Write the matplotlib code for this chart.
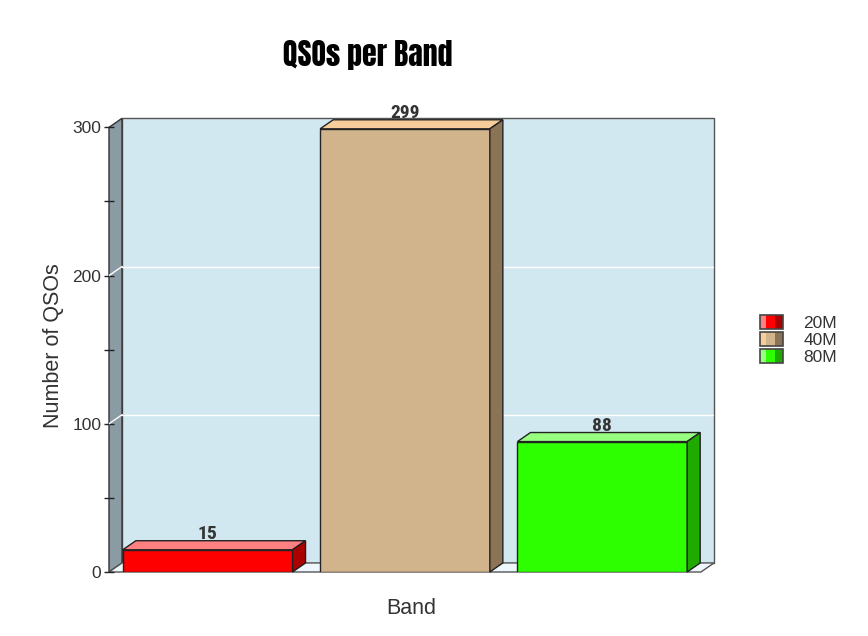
import numpy as np
import matplotlib
matplotlib.use("Agg")
import matplotlib.pyplot as plt
from matplotlib.patches import Rectangle, Polygon
from matplotlib.legend_handler import HandlerBase

plt.rcParams["font.family"] = ["Liberation Sans", "DejaVu Sans"]

# ------------------------------------------------------------
# Data
# ------------------------------------------------------------
bands = ["20M", "40M", "80M"]
qsos = [15, 299, 88]

face_colors = ["#FF0000", "#D2B48C", "#2EFF00"]
top_colors = ["#FF8080", "#F8CD9C", "#99FF80"]
side_colors = ["#AA0000", "#8B7355", "#1FAA00"]

y_max = 300
y_major = [0, 100, 200, 300]
y_minor = [50, 150, 250]

# 3D depth offset in data units
dx = 0.066
dy = 6.1
bar_w = 0.86
x = np.arange(len(bands))

TITLE_FONT = ["Anton", "Oswald", "DejaVu Sans"]
NARROW_BOLD = ["Roboto Condensed", "Archivo Narrow", "DejaVu Sans"]

fig = plt.figure(figsize=(8.68, 6.36), dpi=100, facecolor="white")
ax = fig.add_axes([109 / 868, 1 - 572 / 636, 605 / 868, 453.7 / 636])
x0, x1 = -0.5, len(bands) - 0.5
ax.set_xlim(x0, x1 + dx)
ax.set_ylim(0, y_max + dy)
for s in ax.spines.values():
    s.set_visible(False)

edge = "#333333"

# back wall
ax.add_patch(Rectangle((x0 + dx, dy), x1 - x0, y_max, facecolor="#D2E8F0",
                       edgecolor="#555555", lw=1, zorder=1, clip_on=False))
# left wall
ax.add_patch(Polygon([(x0, 0), (x0, y_max), (x0 + dx, y_max + dy), (x0 + dx, dy)],
                     closed=True, facecolor="#8A9BA3", edgecolor=edge, lw=1,
                     zorder=1, clip_on=False))
# floor
ax.add_patch(Polygon([(x0, 0), (x1, 0), (x1 + dx, dy), (x0 + dx, dy)],
                     closed=True, facecolor="#EEF8FC", edgecolor="#555555", lw=1,
                     zorder=1, clip_on=False))

# gridlines on walls
for g in y_major[1:-1]:
    ax.plot([x0 + dx, x1 + dx], [g + dy, g + dy], color="white", lw=1, zorder=2)
    ax.plot([x0, x0 + dx], [g, g + dy], color="white", lw=1, zorder=2)

# bars: front faces through ax.bar, then top and side faces
bars = ax.bar(x, qsos, width=bar_w, color=face_colors, edgecolor="#222222",
              lw=1, zorder=3)
for b, v, tc, sc in zip(bars, qsos, top_colors, side_colors):
    l = b.get_x()
    r = l + b.get_width()
    ax.add_patch(Polygon([(l, v), (l + dx, v + dy), (r + dx, v + dy), (r, v)],
                         closed=True, facecolor=tc, edgecolor="#222222", lw=1,
                         zorder=3, clip_on=False))
    ax.add_patch(Polygon([(r, 0), (r, v), (r + dx, v + dy), (r + dx, dy)],
                         closed=True, facecolor=sc, edgecolor="#222222", lw=1,
                         zorder=3, clip_on=False))
    ax.text(l + b.get_width() / 2, v + dy - 1.5, str(v), ha="center", va="bottom",
            fontsize=14, fontweight="bold", color="#333333", clip_on=False,
            family=NARROW_BOLD, zorder=5)

# axis ticks
ax.set_xticks([])
ax.set_yticks(y_major)
ax.set_yticks(y_minor, minor=True)
ax.tick_params(axis="y", which="major", direction="inout", length=7, width=1,
               pad=2, labelsize=12.5, labelcolor="#333333", color="#222222")
ax.tick_params(axis="y", which="minor", direction="inout", length=7, width=1,
               color="#222222")
ax.set_ylabel("Number of QSOs", fontsize=15.5, color="#333333", labelpad=6)
ax.set_xlabel("Band", fontsize=15.5, color="#333333", labelpad=19)

fig.text(368 / 868, 1 - 55 / 636, "QSOs per Band", ha="center", va="center",
         fontsize=21.5, color="black", family=TITLE_FONT)


# legend with three-tone keys
class ThreeTone(HandlerBase):
    def __init__(self, light, main, dark):
        super().__init__()
        self.cols = (light, main, dark)

    def create_artists(self, legend, orig_handle, xdescent, ydescent,
                       width, height, fontsize, trans):
        fr = [0.27, 0.41, 0.32]
        arts = []
        xs = -xdescent
        for c, f in zip(self.cols, fr):
            arts.append(Rectangle((xs, -ydescent), width * f, height,
                                  facecolor=c, edgecolor="none", transform=trans))
            xs += width * f
        arts.append(Rectangle((-xdescent, -ydescent), width, height,
                              facecolor="none", edgecolor="#444444", lw=1.2,
                              transform=trans))
        return arts


handles = [Rectangle((0, 0), 1, 1, facecolor=c) for c in face_colors]
hmap = {h: ThreeTone(t, c, s) for h, t, c, s in
        zip(handles, top_colors, face_colors, side_colors)}
fig.legend(handles, bands, handler_map=hmap, loc="center left",
           bbox_to_anchor=(760 / 868, 1 - 340 / 636), bbox_transform=fig.transFigure,
           frameon=False, fontsize=12.5, handlelength=1.3, handleheight=0.88,
           labelspacing=0.05, handletextpad=1.2, borderpad=0, borderaxespad=0,
           labelcolor="#333333")

fig.savefig("out.png", dpi=100, facecolor="white")
